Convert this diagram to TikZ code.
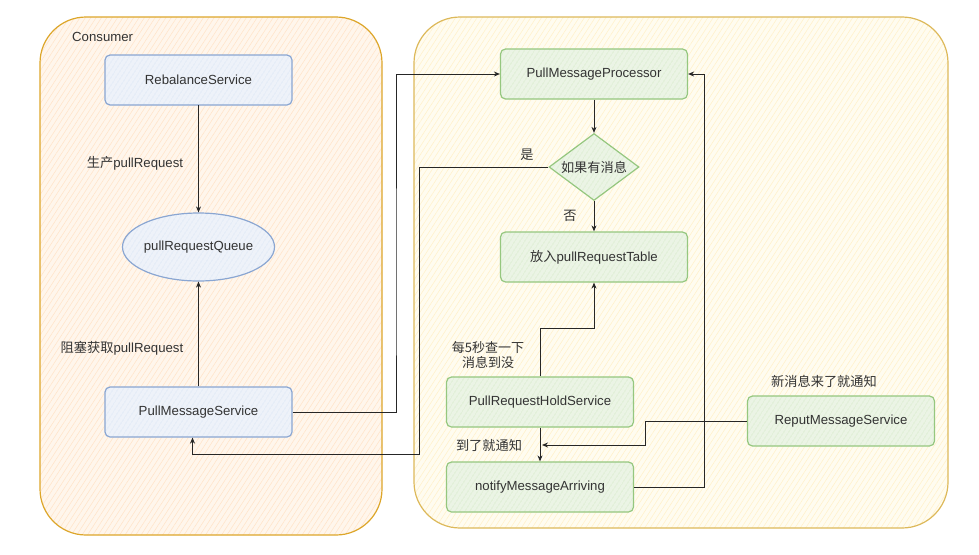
\documentclass[tikz,border=0pt]{standalone}
\usepackage{fontspec}
\setmainfont{Liberation Sans}
\newfontfamily\cjk{Noto Sans CJK SC}
\usetikzlibrary{shapes.geometric,arrows.meta,patterns.meta}
\definecolor{txt}{HTML}{333333}
\definecolor{leftbg}{HTML}{FFF6EC}
\definecolor{lefthatch}{HTML}{FFE5CB}
\definecolor{leftbd}{HTML}{DDA62A}
\definecolor{rightbg}{HTML}{FFFCF0}
\definecolor{righthatch}{HTML}{FFF2CC}
\definecolor{rightbd}{HTML}{DDB95A}
\definecolor{bluebg}{HTML}{EEF2F9}
\definecolor{bluehatch}{HTML}{DAE5F6}
\definecolor{bluebd}{HTML}{8AA6D2}
\definecolor{greenbg}{HTML}{EBF4E5}
\definecolor{greenhatch}{HTML}{D5EAC8}
\definecolor{greenbd}{HTML}{95C77F}
\begin{document}
\begin{tikzpicture}[x=1pt,y=-1pt,
  font=\fontsize{13.2pt}{15pt}\selectfont, text=txt,
  container/.style={draw=#1bd, line width=1.2pt, rounded corners=46pt,
    preaction={fill=#1bg},
    pattern={Lines[angle=57,distance=4.5pt,line width=0.6pt]}, pattern color=#1hatch},
  blk/.style={draw=#1bd, line width=1.2pt, rounded corners=5pt,
    minimum width=187pt, minimum height=50pt,
    preaction={fill=#1bg},
    pattern={Lines[angle=57,distance=4pt,line width=0.6pt]}, pattern color=#1hatch},
  arr/.style={draw=black!85, line width=1pt, -{Stealth[length=6pt,width=5pt]}},
  lbl/.style={inner sep=1pt, align=center}
]
\useasboundingbox (0,0) rectangle (979,554);
% containers
\path[container=left] (40,17) rectangle (382,535);
\path[container=right] (414,17) rectangle (948,528);
\node[lbl, anchor=west] (consumer) at (71,37) {Consumer};
% left nodes
\node[blk=blue] (rbs) at (198.5,80) {RebalanceService};
\node[ellipse, draw=bluebd, line width=1.2pt, inner sep=0pt,
  minimum width=152pt, minimum height=68pt,
  preaction={fill=bluebg}, pattern={Lines[angle=57,distance=4pt,line width=0.6pt]},
  pattern color=bluehatch] (prq) at (198.5,247) {\makebox[90pt][c]{pullRequestQueue}};
\node[blk=blue] (pms) at (198.5,412) {PullMessageService};
% right nodes
\node[blk=green] (pmp) at (594,74) {PullMessageProcessor};
\node[diamond, draw=greenbd, line width=1.2pt, inner sep=0pt, aspect=1.34,
  minimum width=90pt, minimum height=67pt,
  preaction={fill=greenbg}, pattern={Lines[angle=57,distance=4pt,line width=0.6pt]},
  pattern color=greenhatch] (dia) at (594,167) {\cjk 如果有消息};
\node[blk=green] (tbl) at (594,257) {{\cjk 放入}pullRequestTable};
\node[blk=green] (prh) at (540,402) {PullRequestHoldService};
\node[blk=green] (nma) at (540,487) {notifyMessageArriving};
\node[blk=green] (rms) at (841,421) {ReputMessageService};
% labels
\node[lbl] (l1) at (135,163) {{\cjk 生产}pullRequest};
\node[lbl] (l2) at (122,348) {{\cjk 阻塞获取}pullRequest};
\node[lbl] (l3) at (527,155) {\cjk 是};
\node[lbl] (l4) at (570,216) {\cjk 否};
\node[lbl, font=\cjk\fontsize{13pt}{15.5pt}\selectfont] (l5) at (488,355) {每5秒查一下\\消息到没};
\node[lbl] (l6) at (489,445) {\cjk 到了就通知};
\node[lbl] (l7) at (824,381) {\cjk 新消息来了就通知};
% connector coordinates
\coordinate (c1) at (396,300);
\coordinate (c2) at (419,454);
\coordinate (c7) at (645,445);
\coordinate (tip7) at (542,445);
\coordinate (c8) at (704,300);
% connectors
\draw[arr] (rbs) -- (prq);
\draw[arr] (pms) -- (prq);
\draw[arr] (pms.east) -| (c1) |- (pmp.west);
\draw[arr] (dia.west) -| (c2) -| ([xshift=-6pt]pms.south);
\draw[arr] (pmp) -- (dia);
\draw[arr] (dia) -- (tbl);
\draw[arr] (prh.north) -- ++(0,-48) -| (tbl.south);
\draw[arr] (prh) -- (nma);
\draw[arr] (rms.west) -| (c7) -- (tip7);
\draw[arr] (nma.east) -| (c8) |- (pmp.east);
\end{tikzpicture}
\end{document}
